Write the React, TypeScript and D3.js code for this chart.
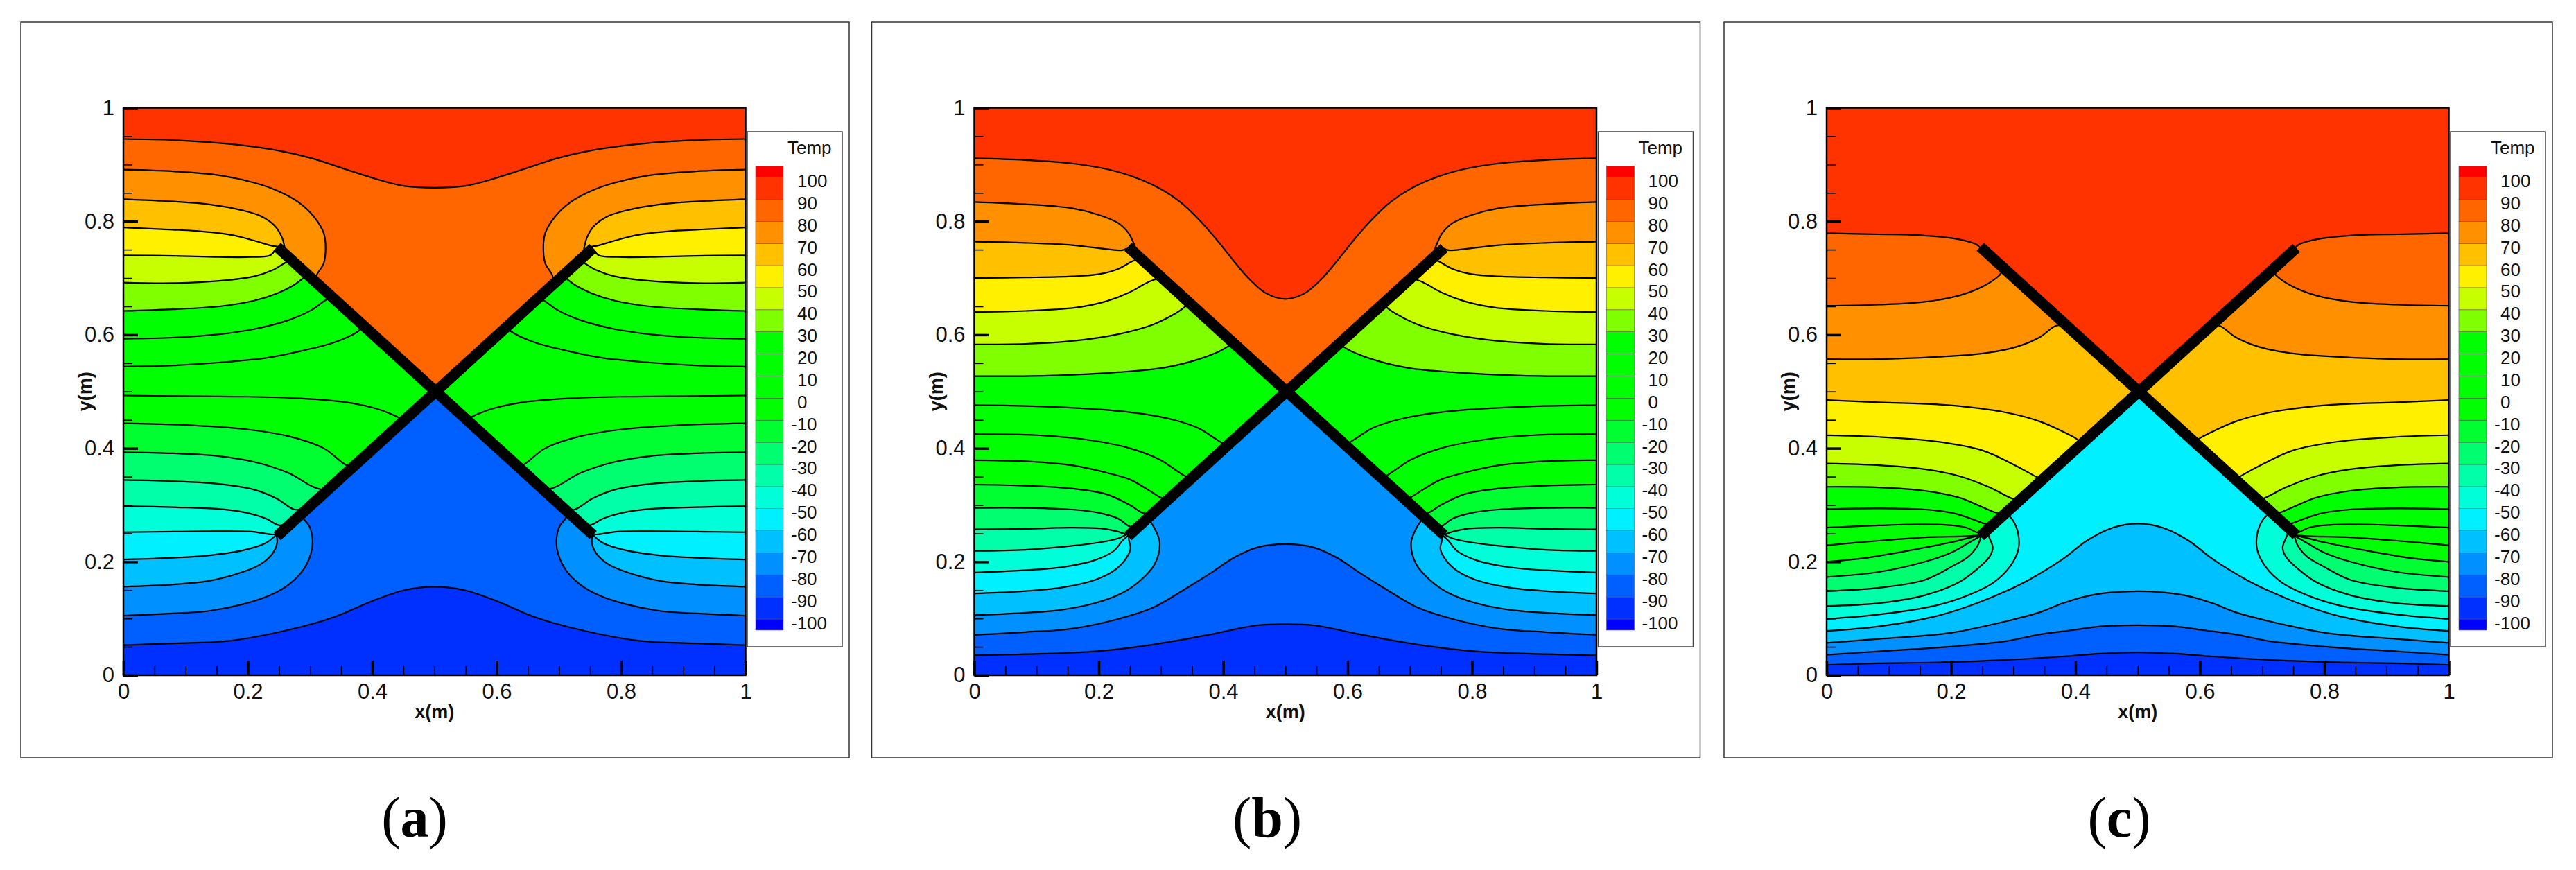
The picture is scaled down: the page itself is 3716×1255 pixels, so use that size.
import * as d3 from 'd3';
import { useEffect, useRef } from 'react';

type Pt = [number, number];

const levels = [-90, -80, -70, -60, -50, -40, -30, -20, -10, 0, 10, 20, 30, 40, 50, 60, 70, 80, 90];
const coldestColor = '#0030ff';
const fillAbove = [
  '#0060ff', '#0090ff', '#00c0ff', '#00f0ff', '#00ffd8', '#00ffa8', '#00ff70', '#00ff30', '#00ff00', '#00ff00',
  '#00ff00', '#00ff00', '#80ff00', '#c8ff00', '#fff000', '#ffc000', '#ff9000', '#ff6600', '#ff3300'
];
const legendValues = [100, 90, 80, 70, 60, 50, 40, 30, 20, 10, 0, -10, -20, -30, -40, -50, -60, -70, -80, -90, -100];

const majorTicks = [0, 0.2, 0.4, 0.6, 0.8, 1];
const minorTicks = [0.05, 0.1, 0.15, 0.25, 0.3, 0.35, 0.45, 0.5, 0.55, 0.65, 0.7, 0.75, 0.85, 0.9, 0.95];

const plates: Pt[][] = [
  [[0.247, 0.755], [0.755, 0.247]],
  [[0.247, 0.245], [0.755, 0.753]]
];

// left half of each isotherm, coldest first; the right half is its mirror image
const panelA: Pt[][] = [
  [[0, 0.053], [0.08, 0.056], [0.173, 0.061], [0.266, 0.08], [0.34, 0.103], [0.396, 0.129], [0.452, 0.15], [0.5, 0.156]],
  [[0, 0.105], [0.08, 0.109], [0.136, 0.113], [0.192, 0.125], [0.236, 0.141], [0.266, 0.16], [0.288, 0.184], [0.301, 0.213], [0.304, 0.237], [0.299, 0.262], [0.29, 0.275], [0.285, 0.285]],
  [[0, 0.156], [0.08, 0.16], [0.136, 0.166], [0.192, 0.182], [0.221, 0.196], [0.24, 0.215], [0.247, 0.233], [0.246, 0.248]],
  [[0, 0.204], [0.08, 0.207], [0.136, 0.211], [0.192, 0.22], [0.229, 0.233], [0.246, 0.248]],
  [[0, 0.252], [0.08, 0.253], [0.154, 0.254], [0.206, 0.253], [0.24, 0.248], [0.25, 0.25]],
  [[0, 0.298], [0.08, 0.296], [0.154, 0.293], [0.199, 0.286], [0.229, 0.276], [0.251, 0.264], [0.27, 0.27]],
  [[0, 0.344], [0.08, 0.342], [0.154, 0.337], [0.21, 0.327], [0.247, 0.311], [0.275, 0.292], [0.295, 0.295]],
  [[0, 0.393], [0.08, 0.391], [0.154, 0.386], [0.21, 0.376], [0.266, 0.356], [0.303, 0.333], [0.325, 0.325]],
  [[0, 0.444], [0.099, 0.441], [0.192, 0.434], [0.266, 0.421], [0.322, 0.4], [0.359, 0.37], [0.37, 0.37]],
  [[0, 0.493], [0.08, 0.492], [0.192, 0.491], [0.284, 0.488], [0.359, 0.481], [0.403, 0.471], [0.429, 0.461], [0.45, 0.45]],
  [[0, 0.544], [0.08, 0.546], [0.154, 0.551], [0.229, 0.559], [0.284, 0.571], [0.34, 0.587], [0.377, 0.606], [0.385, 0.615]],
  [[0, 0.593], [0.08, 0.595], [0.154, 0.601], [0.21, 0.61], [0.266, 0.626], [0.303, 0.644], [0.325, 0.661], [0.335, 0.665]],
  [[0, 0.642], [0.08, 0.645], [0.154, 0.65], [0.21, 0.66], [0.247, 0.673], [0.273, 0.687], [0.288, 0.699], [0.295, 0.705]],
  [[0, 0.692], [0.08, 0.691], [0.154, 0.695], [0.21, 0.703], [0.24, 0.714], [0.26, 0.727], [0.268, 0.732]],
  [[0, 0.74], [0.08, 0.739], [0.154, 0.737], [0.206, 0.737], [0.236, 0.74], [0.244, 0.75]],
  [[0, 0.789], [0.062, 0.786], [0.117, 0.783], [0.173, 0.776], [0.21, 0.766], [0.238, 0.757], [0.25, 0.755]],
  [[0, 0.839], [0.062, 0.836], [0.136, 0.83], [0.192, 0.819], [0.221, 0.809], [0.244, 0.791], [0.255, 0.771], [0.26, 0.75], [0.262, 0.738]],
  [[0, 0.891], [0.08, 0.888], [0.154, 0.881], [0.21, 0.868], [0.247, 0.854], [0.281, 0.834], [0.307, 0.807], [0.322, 0.779], [0.325, 0.754], [0.322, 0.726], [0.31, 0.703], [0.312, 0.69]],
  [[0, 0.945], [0.08, 0.943], [0.173, 0.936], [0.247, 0.925], [0.303, 0.911], [0.359, 0.891], [0.414, 0.872], [0.452, 0.862], [0.5, 0.859]]
];

const panelB: Pt[][] = [
  [[0, 0.035], [0.082, 0.037], [0.194, 0.042], [0.287, 0.054], [0.38, 0.072], [0.454, 0.088], [0.5, 0.09]],
  [[0, 0.071], [0.082, 0.076], [0.157, 0.082], [0.231, 0.099], [0.287, 0.119], [0.342, 0.154], [0.38, 0.18], [0.417, 0.207], [0.454, 0.225], [0.5, 0.231]],
  [[0, 0.106], [0.064, 0.109], [0.138, 0.115], [0.194, 0.127], [0.238, 0.145], [0.268, 0.168], [0.29, 0.196], [0.298, 0.233], [0.29, 0.258], [0.282, 0.272], [0.278, 0.278]],
  [[0, 0.144], [0.064, 0.147], [0.138, 0.154], [0.194, 0.168], [0.224, 0.184], [0.242, 0.203], [0.251, 0.223], [0.248, 0.241], [0.25, 0.247]],
  [[0, 0.181], [0.064, 0.184], [0.138, 0.19], [0.194, 0.203], [0.224, 0.219], [0.238, 0.237], [0.248, 0.247]],
  [[0, 0.219], [0.082, 0.221], [0.157, 0.228], [0.201, 0.234], [0.231, 0.241], [0.246, 0.249]],
  [[0, 0.257], [0.082, 0.258], [0.157, 0.26], [0.209, 0.258], [0.231, 0.253], [0.242, 0.249], [0.25, 0.25]],
  [[0, 0.295], [0.082, 0.295], [0.157, 0.292], [0.201, 0.286], [0.231, 0.276], [0.25, 0.262], [0.262, 0.262]],
  [[0, 0.336], [0.082, 0.334], [0.157, 0.329], [0.212, 0.319], [0.25, 0.3], [0.271, 0.286], [0.285, 0.285]],
  [[0, 0.379], [0.082, 0.377], [0.157, 0.37], [0.212, 0.357], [0.25, 0.345], [0.279, 0.327], [0.3, 0.313], [0.31, 0.31]],
  [[0, 0.425], [0.101, 0.423], [0.175, 0.416], [0.25, 0.4], [0.298, 0.38], [0.327, 0.359], [0.339, 0.351], [0.35, 0.35]],
  [[0, 0.476], [0.101, 0.474], [0.194, 0.469], [0.268, 0.461], [0.324, 0.449], [0.361, 0.435], [0.383, 0.42], [0.397, 0.41], [0.405, 0.405]],
  [[0, 0.527], [0.12, 0.528], [0.231, 0.534], [0.305, 0.542], [0.361, 0.557], [0.394, 0.571], [0.407, 0.579], [0.415, 0.585]],
  [[0, 0.583], [0.082, 0.584], [0.157, 0.589], [0.231, 0.601], [0.287, 0.618], [0.324, 0.638], [0.337, 0.648], [0.345, 0.655]],
  [[0, 0.64], [0.082, 0.642], [0.164, 0.648], [0.212, 0.659], [0.25, 0.675], [0.276, 0.691], [0.289, 0.697], [0.3, 0.7]],
  [[0, 0.7], [0.082, 0.701], [0.157, 0.703], [0.201, 0.707], [0.231, 0.716], [0.253, 0.729], [0.265, 0.735]],
  [[0, 0.764], [0.082, 0.762], [0.157, 0.758], [0.212, 0.751], [0.238, 0.749], [0.245, 0.752]],
  [[0, 0.834], [0.082, 0.83], [0.157, 0.823], [0.201, 0.811], [0.231, 0.797], [0.248, 0.779], [0.255, 0.764], [0.26, 0.75], [0.262, 0.738]],
  [[0, 0.911], [0.082, 0.908], [0.164, 0.901], [0.231, 0.887], [0.287, 0.864], [0.331, 0.834], [0.361, 0.803], [0.39, 0.767], [0.417, 0.73], [0.443, 0.697], [0.469, 0.673], [0.5, 0.663]]
];

const panelC: Pt[][] = [
  [[0, 0.018], [0.084, 0.021], [0.195, 0.023], [0.288, 0.027], [0.38, 0.033], [0.44, 0.038], [0.5, 0.04]],
  [[0, 0.036], [0.084, 0.042], [0.195, 0.05], [0.288, 0.06], [0.343, 0.072], [0.399, 0.08], [0.44, 0.086], [0.5, 0.088]],
  [[0, 0.057], [0.084, 0.064], [0.195, 0.074], [0.288, 0.095], [0.343, 0.111], [0.38, 0.127], [0.425, 0.141], [0.5, 0.148]],
  [[0, 0.078], [0.084, 0.086], [0.176, 0.104], [0.232, 0.123], [0.288, 0.148], [0.325, 0.168], [0.38, 0.205], [0.418, 0.237], [0.46, 0.26], [0.5, 0.267]],
  [[0, 0.099], [0.084, 0.107], [0.176, 0.123], [0.232, 0.143], [0.269, 0.164], [0.295, 0.192], [0.308, 0.221], [0.308, 0.249], [0.301, 0.27], [0.294, 0.28], [0.285, 0.285]],
  [[0, 0.122], [0.084, 0.127], [0.158, 0.141], [0.213, 0.164], [0.243, 0.188], [0.262, 0.209], [0.267, 0.225], [0.262, 0.241], [0.256, 0.256]],
  [[0, 0.148], [0.084, 0.154], [0.158, 0.168], [0.202, 0.192], [0.228, 0.209], [0.243, 0.229], [0.248, 0.245]],
  [[0, 0.173], [0.084, 0.182], [0.158, 0.2], [0.202, 0.217], [0.228, 0.233], [0.247, 0.245]],
  [[0, 0.2], [0.065, 0.207], [0.139, 0.221], [0.195, 0.233], [0.247, 0.247]],
  [[0, 0.229], [0.084, 0.237], [0.158, 0.243], [0.245, 0.247], [0.25, 0.25]],
  [[0, 0.26], [0.084, 0.264], [0.158, 0.266], [0.202, 0.264], [0.225, 0.26], [0.243, 0.251], [0.25, 0.25]],
  [[0, 0.293], [0.084, 0.294], [0.158, 0.292], [0.202, 0.286], [0.232, 0.276], [0.251, 0.268], [0.265, 0.265]],
  [[0, 0.332], [0.084, 0.331], [0.158, 0.325], [0.213, 0.313], [0.251, 0.296], [0.271, 0.287], [0.285, 0.285]],
  [[0, 0.373], [0.084, 0.37], [0.158, 0.363], [0.213, 0.351], [0.262, 0.331], [0.299, 0.311], [0.31, 0.31]],
  [[0, 0.423], [0.084, 0.42], [0.176, 0.412], [0.251, 0.396], [0.299, 0.372], [0.338, 0.349], [0.345, 0.345]],
  [[0, 0.485], [0.084, 0.481], [0.195, 0.476], [0.288, 0.463], [0.343, 0.447], [0.38, 0.429], [0.401, 0.417], [0.41, 0.41]],
  [[0, 0.557], [0.084, 0.557], [0.176, 0.561], [0.251, 0.567], [0.306, 0.579], [0.343, 0.596], [0.369, 0.616], [0.385, 0.615]],
  [[0, 0.651], [0.084, 0.653], [0.158, 0.658], [0.213, 0.669], [0.251, 0.685], [0.277, 0.704], [0.281, 0.71], [0.285, 0.715]],
  [[0, 0.779], [0.084, 0.777], [0.139, 0.776], [0.195, 0.771], [0.225, 0.765], [0.241, 0.759], [0.248, 0.752]]
];

const panels = [
  { lines: panelA, left: 178, caption: 'a', captionX: 598 },
  { lines: panelB, left: 1405.5, caption: 'b', captionX: 1828 },
  { lines: panelC, left: 2635, caption: 'c', captionX: 3057 }
];

const mirror = (pts: Pt[]): Pt[] => pts.map(([px, py]): Pt => [1 - px, py]).reverse();

const drawPanel = (svg: any, p: typeof panels[number], idx: number) => {
  const width = 897.5;
  const top = 155.5;
  const height = 818.5;
  const g = svg.append('g').attr('transform', `translate(${p.left},0)`);

  const x = d3.scaleLinear().domain([0, 1]).range([0, width]);
  const y = d3.scaleLinear().domain([0, 1]).range([top + height, top]);

  // outer frame
  g.append('rect')
    .attr('x', -148)
    .attr('y', 32)
    .attr('width', 1195)
    .attr('height', 1061)
    .attr('fill', '#fff')
    .attr('stroke', '#333')
    .attr('stroke-width', 1.5);

  const clipId = `plot-clip-${idx}`;
  g.append('clipPath')
    .attr('id', clipId)
    .append('rect')
    .attr('x', 0)
    .attr('y', top)
    .attr('width', width)
    .attr('height', height);

  const plot = g.append('g').attr('clip-path', `url(#${clipId})`);
  plot.append('rect')
    .attr('x', 0)
    .attr('y', top)
    .attr('width', width)
    .attr('height', height)
    .attr('fill', coldestColor);

  const line = d3
    .line<Pt>()
    .x(d => x(d[0]))
    .y(d => y(d[1]))
    .curve(d3.curveCatmullRom.alpha(0.5));

  const corners = `L${x(1)},${y(1)}L${x(0)},${y(1)}Z`;

  p.lines.forEach((left, i) => {
    const crossing = left[left.length - 1][0] === 0.5;
    const right = mirror(left);
    // region warmer than this level: the isotherm, then along the plates if it stops on them
    const d = crossing
      ? `${line([...left, ...right.slice(1)])}${corners}`
      : `${line(left)}L${x(0.5)},${y(0.5)}L${line(right)!.slice(1)}${corners}`;
    plot.append('path').attr('d', d).attr('fill', fillAbove[levels.indexOf(levels[i])]);
  });

  p.lines.forEach(left => {
    const crossing = left[left.length - 1][0] === 0.5;
    const right = mirror(left);
    const segs = crossing ? [[...left, ...right.slice(1)]] : [left, right];
    segs.forEach(s => {
      plot.append('path')
        .attr('d', line(s))
        .attr('fill', 'none')
        .attr('stroke', '#000')
        .attr('stroke-width', 2.2);
    });
  });

  const plateLine = d3.line<Pt>().x(d => x(d[0])).y(d => y(d[1]));
  plates.forEach(s => {
    g.append('path').attr('d', plateLine(s)).attr('fill', 'none').attr('stroke', '#000').attr('stroke-width', 15.5);
  });

  // axes, ticks point inwards
  const yAxis = g.append('g').attr('font-family', null);
  yAxis.call(
    d3.axisLeft(y).tickValues(majorTicks).tickSize(-21).tickPadding(13).tickFormat(d => String(d))
  );
  const yMinor = g.append('g');
  yMinor.call(d3.axisLeft(y).tickValues(minorTicks).tickSize(-13).tickFormat(() => ''));
  const xAxis = g.append('g').attr('transform', `translate(0,${top + height})`);
  xAxis.call(
    d3.axisBottom(x).tickValues(majorTicks).tickSize(-21).tickPadding(12).tickFormat(d => String(d))
  );
  const xMinor = g.append('g').attr('transform', `translate(0,${top + height})`);
  xMinor.call(d3.axisBottom(x).tickValues(minorTicks).tickSize(-13).tickFormat(() => ''));

  [yAxis, xAxis].forEach(a => {
    a.select('.domain').remove();
    a.selectAll('line').attr('stroke', '#000').attr('stroke-width', 3.5);
    a.selectAll('text').attr('fill', '#111').attr('font-family', 'Liberation Sans').attr('font-size', 31);
  });
  [yMinor, xMinor].forEach(a => {
    a.select('.domain').remove();
    a.selectAll('line').attr('stroke', '#000').attr('stroke-width', 1.6);
    a.selectAll('text').remove();
  });

  g.append('rect')
    .attr('x', 0)
    .attr('y', top)
    .attr('width', width)
    .attr('height', height)
    .attr('fill', 'none')
    .attr('stroke', '#000')
    .attr('stroke-width', 2.5);

  g.append('text')
    .attr('x', width / 2)
    .attr('y', 1036)
    .attr('text-anchor', 'middle')
    .attr('font-family', 'Liberation Sans')
    .attr('font-weight', 'bold')
    .attr('font-size', 27)
    .attr('fill', '#111')
    .text('x(m)');
  g.append('text')
    .attr('transform', `translate(-46,${top + height / 2}) rotate(-90)`)
    .attr('text-anchor', 'middle')
    .attr('font-family', 'Liberation Sans')
    .attr('font-weight', 'bold')
    .attr('font-size', 27)
    .attr('fill', '#111')
    .text('y(m)');

  // legend
  const lg = g.append('g').attr('transform', 'translate(900,0)');
  lg.append('rect')
    .attr('x', 0)
    .attr('y', 190)
    .attr('width', 137)
    .attr('height', 743)
    .attr('fill', '#fff')
    .attr('stroke', '#444')
    .attr('stroke-width', 1.5);
  lg.append('text')
    .attr('x', 58)
    .attr('y', 222)
    .attr('font-family', 'Liberation Sans')
    .attr('font-size', 26)
    .attr('fill', '#111')
    .text('Temp');

  const ly = d3.scaleLinear().domain([100, -100]).range([255.6, 893]);
  const legendEdges = [...legendValues.slice().reverse()];
  const legendColors = ['#0000ff', coldestColor, ...fillAbove, '#ff0000'];
  legendColors.forEach((c, i) => {
    const lo = i === 0 ? -105 : legendEdges[i - 1];
    const hi = i === legendColors.length - 1 ? 105 : legendEdges[i];
    lg.append('rect')
      .attr('x', 12)
      .attr('y', ly(hi))
      .attr('width', 40)
      .attr('height', ly(lo) - ly(hi))
      .attr('fill', c)
      .attr('stroke', '#555')
      .attr('stroke-width', 0.6);
  });
  lg.selectAll('text.val')
    .data(legendValues)
    .enter()
    .append('text')
    .attr('class', 'val')
    .attr('x', (d: number) => (d < 0 ? 63 : 72))
    .attr('y', (d: number) => ly(d) + 14.5)
    .attr('font-family', 'Liberation Sans')
    .attr('font-size', 26)
    .attr('fill', '#111')
    .text((d: number) => String(d));

  // caption, letter in bold
  const cap = svg.append('text')
    .attr('x', p.captionX)
    .attr('y', 1207)
    .attr('text-anchor', 'middle')
    .attr('font-family', 'Liberation Serif')
    .attr('font-size', 82)
    .attr('fill', '#000');
  cap.append('tspan').text('(');
  cap.append('tspan').attr('font-weight', 'bold').text(p.caption);
  cap.append('tspan').text(')');
};

const App = () => {
  const ref = useRef<SVGSVGElement | null>(null);

  useEffect(() => {
    if (!ref.current) return;
    const svg = d3.select(ref.current);
    svg.selectAll('*').remove();
    panels.forEach((p, i) => drawPanel(svg, p, i));
  }, []);

  return (
    <svg
      ref={ref}
      width={3716}
      height={1255}
      style={{ position: 'absolute', left: 0, top: 0, background: '#fff' }}
    />
  );
};

export default App;
